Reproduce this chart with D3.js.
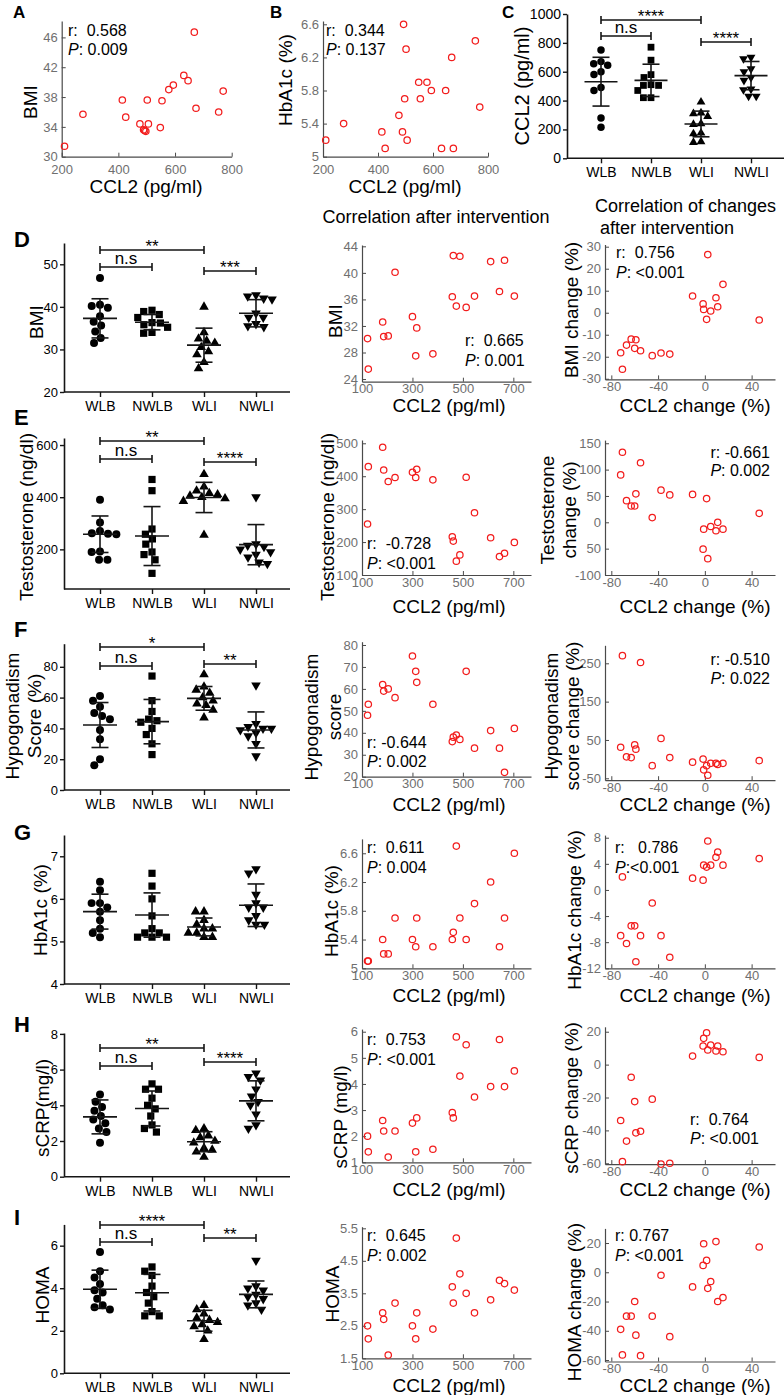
<!DOCTYPE html>
<html><head><meta charset="utf-8">
<script src="https://cdn.jsdelivr.net/npm/d3@7"></script>
<style>
body{margin:0;background:#fff;}
svg{display:block;}
text{white-space:pre;}
</style></head><body>
<script>
// ---------------- DATA ----------------
const groups = ["WLB", "NWLB", "WLI", "NWLI"];

// Panels A, B (baseline correlations)
const ccl2Pre  = [210,275,414,426,476,489,493,497,502,506,548,554,578,594,631,646,668,674,754,770];
const bmiPre   = [31.4,35.7,37.6,35.3,34.4,33.6,33.5,33.4,37.6,34.4,33.9,37.5,39.0,39.6,40.9,40.2,46.7,36.5,36.0,38.8];
const hba1cPre = [5.2,5.4,5.3,5.1,5.5,5.3,6.6,5.7,6.3,5.2,5.9,5.7,5.9,5.8,5.1,5.8,6.2,5.1,6.4,5.6];

// Panel C
const ccl2Groups = [
  [750,670,655,645,600,580,490,470,280,215],
  [770,680,580,560,510,505,505,470,420,420],
  [390,315,310,290,240,235,175,170,115,110],
  [700,690,620,600,560,540,480,475,430,430]];
const ccl2Mean = [531,540,238,573];
const ccl2SD   = [169,112,89,98];

// Group dot plots (D–I, left column)
const bmiGroups = [
  [46.8,40.5,40.2,39.8,37.8,36.5,35.6,34.2,32.7,31.5],
  [39.2,38.9,38.2,37.5,36.3,36.2,35.8,35.2,34.0,33.8],
  [40.0,34.0,32.5,32.0,31.5,30.5,29.5,28.8,27.0,25.5],
  [42.8,42.5,42.0,41.8,38.5,37.5,37.5,36.0,35.5,35.3]];
const bmiMean = [37.3,36.4,31.0,38.5];
const bmiSD   = [4.6,1.8,4.0,3.2];

const testoGroups = [
  [390,303,270,262,260,258,192,190,160,160],
  [468,425,278,258,240,220,190,180,160,108],
  [488,440,425,415,410,405,400,395,385,255],
  [401,220,215,210,200,190,180,170,150,145]];
const testoMean = [258,251,399,218];
const testoSD   = [70,113,58,77];

const hypoGroups = [
  [61,58,54,50,48,46,39,33,20,16],
  [74,58,51,46,45,44,40,36,30,23],
  [75,67,65,63,60,58,56,55,52,47],
  [68,43,41,40,40,39,37,35,30,22]];
const hypoMean = [42.2,44.4,59.5,39.0];
const hypoSD   = [14.6,14.4,7.7,11.7];

const hba1cGroups = [
  [6.4,6.2,5.9,5.9,5.8,5.7,5.5,5.3,5.2,5.1],
  [6.6,6.3,6.0,5.6,5.3,5.2,5.2,5.1,5.1,5.1],
  [5.7,5.7,5.5,5.4,5.3,5.3,5.2,5.2,5.1,5.1],
  [6.7,6.6,6.1,5.9,5.8,5.8,5.6,5.5,5.4,5.4]];
const hba1cMean = [5.70,5.62,5.34,5.85];
const hba1cSD   = [0.41,0.52,0.21,0.50];

const scrpGroups = [
  [4.6,4.2,3.9,3.7,3.4,3.2,3.0,2.7,2.5,1.9],
  [5.2,4.9,4.9,4.4,4.0,3.8,3.4,2.9,2.7,2.5],
  [2.7,2.6,2.3,2.2,2.0,1.9,1.6,1.5,1.4,1.1],
  [5.8,5.6,5.4,4.9,4.5,4.2,4.0,3.5,2.9,2.7]];
const scrpMean = [3.35,3.82,1.96,4.25];
const scrpSD   = [0.95,0.98,0.56,1.12];

const homaGroups = [
  [5.7,4.8,4.5,4.2,3.9,3.8,3.5,3.2,3.1,3.0],
  [5.0,4.8,4.6,4.1,3.8,3.6,3.3,2.9,2.7,2.7],
  [3.2,3.0,2.8,2.6,2.5,2.4,2.3,2.2,2.0,1.6],
  [5.3,4.1,4.0,3.9,3.7,3.6,3.5,3.3,3.2,3.0]];
const homaMean = [3.95,3.79,2.47,3.71];
const homaSD   = [0.90,0.86,0.49,0.63];

// Correlation after intervention (middle column)
const ccl2Post  = [122,125,182,186,204,231,300,313,317,381,458,462,474,488,513,546,610,645,665,704];
const bmiPost   = [30.1,25.5,32.6,30.4,30.5,40.1,33.4,27.5,31.7,27.8,36.4,42.6,35.0,42.5,34.8,36.5,41.7,37.2,41.9,36.5];
const testoPost = [255,429,488,419,384,396,412,396,421,389,216,203,142,161,397,289,213,156,166,199];
const hypoPost  = [48,53,62,59,60,56,75,68,63,53,36,38,39,37,68,33,41,33,22,42];
const hba1cPost = [5.1,5.1,5.4,5.2,5.2,5.7,5.4,5.3,5.7,5.3,5.4,5.5,6.7,5.7,5.4,5.9,6.2,5.3,5.7,6.6];
const scrpPost  = [2.0,1.4,2.6,2.2,1.2,2.2,2.5,1.4,2.7,1.5,2.9,2.7,5.8,4.3,5.5,3.5,3.9,5.7,3.9,4.5];
const homaPost  = [2.5,2.1,2.9,2.7,1.6,3.2,2.5,2.1,2.9,2.4,3.7,3.2,5.2,4.1,3.5,2.9,3.3,3.9,3.8,3.6];

// Correlation of changes (right column)
const ccl2Change  = [-72,-70.5,-67,-63,-60,-59,-55,-45,-37.5,-30,-10.5,-1.5,-1,1.5,2.5,5,9.5,11,15.5,46.5];
const bmiChange   = [-18.2,-25.7,-14.7,-12,-16.2,-12.3,-17.3,-19.5,-18.3,-18.8,7.6,4,1.5,-3,26.4,0.8,6.8,2.7,12.9,-3.3];
const testoChange = [90,133,41,31,31,54,113,9,61,52,53,-51,-13,45,-69,-8,-16,0,-13,17];
const hypoChange  = [31,270,6,4,37,26,252,-17,54,4,-8,0,-28,-17,-42,-11,-11,-14,-11,-4];
const hba1cChange = [-7,2,-8.2,-5.5,-5.5,-11,-7,-2,-7,-10.3,1.8,1.5,3.8,3.5,7.5,3.8,5,5.8,3.8,4.8];
const scrpChange  = [-34,-59,-46.5,-7.7,-22.5,-41.5,-40.5,-21,-60.5,-60,5.2,11.3,16,19.4,8.9,11.9,8.3,11.3,7.8,4.4];
const homaChange  = [-39,-56.5,-30,-30,-20,-43,-57,-30,-2,-44,-10,4.7,19.5,8.1,-11,-6.3,21,-20,-17.3,17.3];

// Statistics text
const rTexts = {A:"r:  0.568", B:"r:  0.344", Dm:"r:  0.665", Dr:"r:  0.756", Em:"r:  -0.728", Er:"r: -0.661",
  Fm:"r: -0.644", Fr:"r: -0.510", Gm:"r:  0.611", Gr:"r:   0.786", Hm:"r:  0.753", Hr:"r:  0.764", Im:"r:  0.645", Ir:"r: 0.767"};
const pTexts = {A:": 0.009", B:": 0.137", Dm:": 0.001", Dr:": <0.001", Em:": <0.001", Er:": 0.002",
  Fm:": 0.002", Fr:": 0.022", Gm:": 0.004", Gr:":<0.001", Hm:": <0.001", Hr:": <0.001", Im:": 0.002", Ir:": <0.001"};
const sigC = ["****","n.s","****"];
const sigD = ["**","n.s","***"];
const sigE = ["**","n.s","****"];
const sigF = ["*","n.s","**"];
const sigH = ["**","n.s","****"];
const sigI = ["****","n.s","**"];
const eRightTickLabels = ["-100","50","0","50","100","150"];

// ---------------- DRAWING ----------------
const FONT = "'Liberation Sans', Arial, Helvetica, sans-serif";
const svg = d3.select("body").append("svg").attr("width", 784).attr("height", 1395)
  .attr("font-family", FONT);

function txt(x, y, s, size, opts = {}) {
  const t = svg.append("text").attr("x", x).attr("y", y).attr("font-size", size)
    .attr("text-anchor", opts.anchor || "start").attr("fill", opts.fill || "#000").text(s);
  if (opts.bold) t.attr("font-weight", "bold");
  return t;
}
function vtitle(lines, xs, cy, size = 19) {
  lines.forEach((s, i) => svg.append("text")
    .attr("transform", `translate(${xs[i]},${cy}) rotate(-90)`)
    .attr("text-anchor", "middle").attr("dominant-baseline", "central")
    .attr("font-size", size).attr("fill", "#000").text(s));
}
function ann(key, x, y1, y2, anchor = "start") {
  txt(x, y1, rTexts[key], 16, {anchor});
  const t = svg.append("text").attr("x", x).attr("y", y2).attr("font-size", 16).attr("text-anchor", anchor);
  t.append("tspan").attr("font-style", "italic").text("P");
  t.append("tspan").text(pTexts[key]);
}

function swarm(vals, yScale, d) {
  const placed = [];
  return vals.map(v => {
    const py = yScale(v);
    const forb = [];
    placed.forEach(p => {
      const dy = Math.abs(p.y - py);
      if (dy < d) { const w = Math.sqrt(d * d - dy * dy); forb.push([p.x - w, p.x + w]); }
    });
    const cands = [0];
    forb.forEach(f => cands.push(f[0], f[1]));
    cands.sort((a, b) => Math.abs(a) - Math.abs(b) || a - b);
    const ok = cands.find(c => forb.every(f => c <= f[0] + 1e-6 || c >= f[1] - 1e-6));
    placed.push({x: ok, y: py});
    return {v, dx: ok, y: py};
  });
}

const symbols = [d3.symbolCircle, d3.symbolSquare, d3.symbolTriangle, d3.symbolTriangle];

function dotPlot(o) {
  const g = svg.append("g");
  const y = d3.scaleLinear().domain(o.yDom).range(o.yRange);
  const x = d3.scalePoint().domain(groups).range(o.catRange);
  const ink = "#151515";
  const ay = d3.axisLeft(y).tickValues(o.yTicks).tickSize(4).tickSizeOuter(0).tickPadding(2)
    .tickFormat(d => String(d));
  g.append("g").attr("transform", `translate(${o.axisX},0)`).call(ay)
    .attr("font-family", FONT).attr("font-size", o.tickFont);
  const ax = d3.axisBottom(x).tickSize(5).tickSizeOuter(0).tickPadding(o.catPad);
  const gx = g.append("g").attr("transform", `translate(0,${o.yRange[0]})`).call(ax)
    .attr("font-family", FONT).attr("font-size", 14);
  gx.select(".domain").remove();
  g.append("line").attr("x1", o.axisX).attr("x2", o.xEnd).attr("y1", o.yRange[0]).attr("y2", o.yRange[0])
    .attr("stroke", ink).attr("stroke-width", 1.6);
  g.selectAll(".domain").attr("stroke", ink).attr("stroke-width", 1.6);
  g.selectAll(".tick line").attr("stroke", ink).attr("stroke-width", 1.4);
  g.selectAll(".tick text").attr("fill", "#000");

  o.data.forEach((vals, gi) => {
    const cx = x(groups[gi]);
    const pts = swarm(vals, y, o.spread);
    g.selectAll(null).data(pts).join("path")
      .attr("d", d3.symbol(symbols[gi], o.symSize[gi]))
      .attr("transform", d => `translate(${cx + d.dx},${d.y})` + (gi === 3 ? " rotate(180)" : ""))
      .attr("fill", "#000");
    const m = o.means[gi], s = o.sds[gi];
    g.append("line").attr("x1", cx - o.meanW / 2).attr("x2", cx + o.meanW / 2)
      .attr("y1", y(m)).attr("y2", y(m)).attr("stroke", ink).attr("stroke-width", 1.6);
    g.append("line").attr("x1", cx).attr("x2", cx).attr("y1", y(m - s)).attr("y2", y(m + s))
      .attr("stroke", ink).attr("stroke-width", 1.6);
    [m - s, m + s].forEach(v => g.append("line").attr("x1", cx - o.capW / 2).attr("x2", cx + o.capW / 2)
      .attr("y1", y(v)).attr("y2", y(v)).attr("stroke", ink).attr("stroke-width", 1.6));
  });
  (o.brackets || []).forEach((b, i) => {
    const x1 = x(groups[b[0]]), x2 = x(groups[b[1]]), by = b[2];
    g.append("path").attr("d", `M${x1},${by - 4}V${by + 4}M${x1},${by}H${x2}M${x2},${by - 4}V${by + 4}`)
      .attr("fill", "none").attr("stroke", ink).attr("stroke-width", 1.6);
    const lab = o.sig[i];
    const isStar = lab.indexOf("*") >= 0;
    g.append("text").attr("x", (x1 + x2) / 2).attr("y", isStar ? by + 2 : by - 3)
      .attr("text-anchor", "middle").attr("font-size", 17).text(lab);
  });
}

function scatter(o) {
  const g = svg.append("g");
  const x = d3.scaleLinear().domain(o.xDom).range(o.xRange);
  const y = d3.scaleLinear().domain(o.yDom).range(o.yRange);
  const axc = "#4a4a4a";
  const ax = d3.axisBottom(x).tickValues(o.xTicks).tickSize(-4).tickSizeOuter(0).tickPadding(o.xPad)
    .tickFormat(d => String(d));
  g.append("g").attr("transform", `translate(0,${o.yRange[0]})`).call(ax);
  const ay = d3.axisLeft(y).tickValues(o.yTicks).tickSize(-4).tickSizeOuter(0).tickPadding(4)
    .tickFormat(o.yLabels ? ((d, i) => o.yLabels[i]) : (d => String(d)));
  g.append("g").attr("transform", `translate(${o.xRange[0]},0)`).call(ay);
  g.selectAll("g").attr("font-family", FONT).attr("font-size", 13);
  g.selectAll(".domain").attr("stroke", axc).attr("stroke-width", 1.2);
  g.selectAll(".tick line").attr("stroke", axc).attr("stroke-width", 1);
  g.selectAll(".tick text").attr("fill", "#6f6f6f");
  g.selectAll(null).data(d3.zip(o.xs, o.ys)).join("circle")
    .attr("cx", d => x(d[0])).attr("cy", d => y(d[1])).attr("r", 3.2)
    .attr("fill", "none").attr("stroke", "#f21c1c").attr("stroke-width", 1.25);
}

// ---- Panel letters ----
[["A", 13, 18], ["B", 270, 18], ["C", 502, 18]].forEach(l => txt(l[1], l[2], l[0], 17, {bold: true}));

// ---- Panel A ----
scatter({xDom: [200, 800], xRange: [61.7, 231.7], yDom: [30, 48.2], yRange: [156.7, 21],
  xTicks: [200, 400, 600, 800], yTicks: [30, 34, 38, 42, 46], xPad: 8, xs: ccl2Pre, ys: bmiPre});
ann("A", 68, 36, 55);
vtitle(["BMI"], [30], 102);
txt(146, 193, "CCL2 (pg/ml)", 19, {anchor: "middle"});

// ---- Panel B ----
scatter({xDom: [200, 800], xRange: [323, 488], yDom: [5, 6.64], yRange: [156.7, 21],
  xTicks: [200, 400, 600, 800], yTicks: [5, 5.4, 5.8, 6.2, 6.6], xPad: 8, xs: ccl2Pre, ys: hba1cPre});
ann("B", 326, 36, 55);
vtitle(["HbA1c (%)"], [285], 80);
txt(405, 193, "CCL2 (pg/ml)", 19, {anchor: "middle"});

// ---- Panel C ----
dotPlot({yDom: [0, 1000], yRange: [158.3, 14], yTicks: [0, 200, 400, 600, 800, 1000], axisX: 567, xEnd: 784,
  catRange: [601, 751], catPad: 4, tickFont: 14, data: ccl2Groups, means: ccl2Mean, sds: ccl2SD,
  spread: 7.6, symSize: [44, 46, 34, 34], meanW: 33, capW: 17,
  brackets: [[0, 2, 20], [0, 1, 36], [2, 3, 42]], sig: sigC});
vtitle(["CCL2 (pg/ml)"], [522], 86, 20);

// ---- Column titles ----
txt(436, 223, "Correlation after intervention", 18, {anchor: "middle"});
txt(595, 212, "Correlation of changes", 18);
txt(600, 234, "after intervention", 18);

// ---- Rows D–I ----
const rows = [
  {L: "D", ly: 247, g: bmiGroups, m: bmiMean, s: bmiSD, yDom: [20, 55], yRange: [392, 243], yTicks: [20, 30, 40, 50],
   br: [[0, 2, 250], [0, 1, 267], [2, 3, 271]], sig: sigD, lt: [["BMI"], [36], 322],
   post: bmiPost, mid: {yDom: [23.6, 44.2], yRange: [381.7, 245], ticks: [24, 28, 32, 36, 40, 44]},
   mt: [["BMI"], [335], 321], ma: ["Dm", 465, 346, 366, "start"],
   chg: bmiChange, rgt: {yDom: [-30.3, 31], yRange: [379.4, 244.5], ticks: [-30, -20, -10, 0, 10, 20, 30]},
   rt: [["BMI change (%)"], [571], 310], ra: ["Dr", 616, 258, 278, "start"], xt: 412},
  {L: "E", ly: 425, g: testoGroups, m: testoMean, s: testoSD, yDom: [48, 627], yRange: [589, 438], yTicks: [200, 400, 600],
   br: [[0, 2, 441], [0, 1, 459], [2, 3, 462]], sig: sigE, lt: [["Testosterone (ng/dl)"], [26], 517],
   post: testoPost, mid: {yDom: [100, 510], yRange: [575, 440], ticks: [100, 200, 300, 400, 500]},
   mt: [["Testosterone (ng/dl)"], [327], 517], ma: ["Em", 367, 549, 569, "start"],
   chg: testoChange, rgt: {yDom: [-100, 156], yRange: [575, 440.1], ticks: [-100, -50, 0, 50, 100, 150], labels: eRightTickLabels},
   rt: [["Testosterone", "change (%)"], [547, 569], 510], ra: ["Er", 770, 458, 476, "end"], xt: 613},
  {L: "F", ly: 637, g: hypoGroups, m: hypoMean, s: hypoSD, yDom: [0, 95], yRange: [790, 643.7], yTicks: [0, 20, 40, 60, 80],
   br: [[0, 2, 647], [0, 1, 666], [2, 3, 664]], sig: sigF, lt: [["Hypogonadism", "Score (%)"], [12, 34], 716],
   post: hypoPost, mid: {yDom: [20, 81.5], yRange: [776.7, 641.7], ticks: [20, 30, 40, 50, 60, 70, 80]},
   mt: [["Hypogonadism", "score"], [311, 334], 717], ma: ["Fm", 367, 748, 767, "start"],
   chg: hypoChange, rgt: {yDom: [-55, 297], yRange: [780.2, 645.3], ticks: [-50, 50, 150, 250]},
   rt: [["Hypogonadism", "score change (%)"], [551, 572], 716], ra: ["Fr", 770, 665, 684, "end"], xt: 811},
  {L: "G", ly: 840, g: hba1cGroups, m: hba1cMean, s: hba1cSD, yDom: [4, 7.5], yRange: [984, 835], yTicks: [4, 5, 6, 7],
   br: [], sig: [], lt: [["HbA1c (%)"], [40], 910],
   post: hba1cPost, mid: {yDom: [5, 6.8], yRange: [968.3, 838.9], ticks: [5, 5.4, 5.8, 6.2, 6.6]},
   mt: [["HbA1c (%)"], [331], 911], ma: ["Gm", 367, 853, 873, "start"],
   chg: hba1cChange, rgt: {yDom: [-12, 8.4], yRange: [968.3, 835.1], ticks: [-12, -8, -4, 0, 4, 8]},
   rt: [["HbA1c change (%)"], [574], 910], ra: ["Gr", 615, 853, 873, "start"], xt: 1002},
  {L: "H", ly: 1032, g: scrpGroups, m: scrpMean, s: scrpSD, yDom: [0, 8.05], yRange: [1176.7, 1033], yTicks: [0, 2, 4, 6, 8],
   br: [[0, 2, 1048], [0, 1, 1066], [2, 3, 1062]], sig: sigH, lt: [["sCRP(mg/l)"], [42], 1108],
   post: scrpPost, mid: {yDom: [1, 6.1], yRange: [1162.3, 1029.1], ticks: [1, 2, 3, 4, 5, 6]},
   mt: [["sCRP (mg/l)"], [340], 1117], ma: ["Hm", 367, 1045, 1065, "start"],
   chg: scrpChange, rgt: {yDom: [-60.5, 23], yRange: [1164.1, 1026.8], ticks: [-60, -40, -20, 0, 20]},
   rt: [["sCRP change (%)"], [571], 1098], ra: ["Hr", 690, 1125, 1144, "start"], xt: 1196},
  {L: "I", ly: 1225, g: homaGroups, m: homaMean, s: homaSD, yDom: [0, 7], yRange: [1373.3, 1224.4], yTicks: [0, 2, 4, 6],
   br: [[0, 2, 1225], [0, 1, 1242], [2, 3, 1238]], sig: sigI, lt: [["HOMA"], [42], 1295],
   post: homaPost, mid: {yDom: [1.5, 5.55], yRange: [1358.3, 1226.7], ticks: [1.5, 2.5, 3.5, 4.5, 5.5]},
   mt: [["HOMA"], [332], 1294], ma: ["Im", 367, 1241, 1261, "start"],
   chg: homaChange, rgt: {yDom: [-61, 30], yRange: [1361.5, 1228.4], ticks: [-60, -40, -20, 0, 20]},
   rt: [["HOMA change (%)"], [574], 1302], ra: ["Ir", 615, 1241, 1261, "start"], xt: 1392}
];

rows.forEach(r => {
  txt(14, r.ly, r.L, 22, {bold: true});
  dotPlot({yDom: r.yDom, yRange: r.yRange, yTicks: r.yTicks, axisX: 64, xEnd: 290,
    catRange: [100, 256], catPad: 4, tickFont: 13, data: r.g, means: r.m, sds: r.s,
    spread: 8.4, symSize: [50, 52, 40, 40], meanW: 34, capW: 17, brackets: r.br, sig: r.sig});
  vtitle(r.lt[0], r.lt[1], r.lt[2]);

  scatter({xDom: [100, 770], xRange: [362, 531], yDom: r.mid.yDom, yRange: r.mid.yRange,
    xTicks: [100, 300, 500, 700], yTicks: r.mid.ticks, xPad: 2.5, xs: ccl2Post, ys: r.post});
  vtitle(r.mt[0], r.mt[1], r.mt[2]);
  ann(r.ma[0], r.ma[1], r.ma[2], r.ma[3], r.ma[4]);
  txt(449, r.xt, "CCL2 (pg/ml)", 19, {anchor: "middle"});

  scatter({xDom: [-85.4, 60], xRange: [605, 775], yDom: r.rgt.yDom, yRange: r.rgt.yRange,
    xTicks: [-80, -40, 0, 40], yTicks: r.rgt.ticks, yLabels: r.rgt.labels, xPad: 2.5, xs: ccl2Change, ys: r.chg});
  vtitle(r.rt[0], r.rt[1], r.rt[2]);
  ann(r.ra[0], r.ra[1], r.ra[2], r.ra[3], r.ra[4]);
  txt(695, r.xt, "CCL2 change (%)", 19, {anchor: "middle"});
});
</script>
</body></html>
